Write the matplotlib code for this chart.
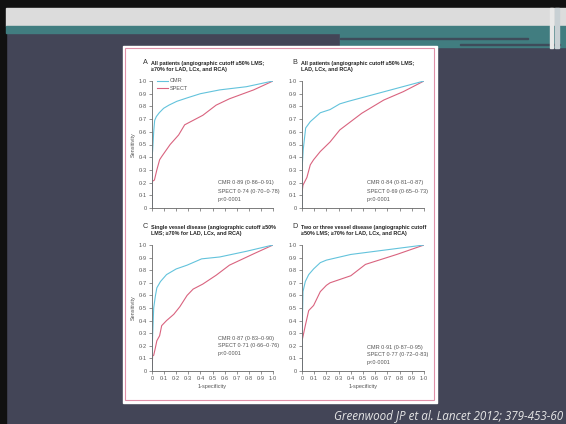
import matplotlib
matplotlib.use("Agg")
import matplotlib.pyplot as plt
from matplotlib.patches import Rectangle

# ROC points (1-specificity, sensitivity)
a_cmr_x = [0, 0, 0.005, 0.014, 0.022, 0.036, 0.06, 0.096, 0.14, 0.205, 0.30, 0.40, 0.56, 0.78, 1.0]
a_cmr_y = [0, 0.40, 0.45, 0.60, 0.69, 0.72, 0.75, 0.785, 0.81, 0.84, 0.87, 0.90, 0.93, 0.955, 1.0]
a_spect_x = [0, 0.003, 0.02, 0.04, 0.063, 0.08, 0.15, 0.22, 0.27, 0.34, 0.42, 0.53, 0.64, 0.84, 1.0]
a_spect_y = [0, 0.21, 0.22, 0.30, 0.38, 0.405, 0.50, 0.575, 0.655, 0.69, 0.73, 0.81, 0.86, 0.93, 1.0]

b_cmr_x = [0, 0, 0.01, 0.03, 0.068, 0.15, 0.23, 0.31, 0.38, 1.0]
b_cmr_y = [0, 0.30, 0.46, 0.63, 0.68, 0.75, 0.775, 0.82, 0.84, 1.0]
b_spect_x = [0, 0, 0.008, 0.04, 0.068, 0.095, 0.15, 0.23, 0.31, 0.49, 0.67, 0.83, 1.0]
b_spect_y = [0, 0.12, 0.18, 0.24, 0.34, 0.38, 0.445, 0.52, 0.615, 0.746, 0.85, 0.916, 1.0]

c_cmr_x = [0, 0, 0.005, 0.014, 0.027, 0.04, 0.07, 0.12, 0.20, 0.29, 0.41, 0.56, 0.78, 1.0]
c_cmr_y = [0, 0.12, 0.28, 0.50, 0.59, 0.66, 0.71, 0.765, 0.81, 0.84, 0.89, 0.905, 0.95, 1.0]
c_spect_x = [0, 0.005, 0.014, 0.027, 0.04, 0.063, 0.08, 0.12, 0.18, 0.23, 0.29, 0.34, 0.42, 0.53, 0.64, 0.84, 1.0]
c_spect_y = [0, 0.12, 0.125, 0.18, 0.24, 0.28, 0.36, 0.40, 0.45, 0.51, 0.60, 0.65, 0.69, 0.76, 0.84, 0.93, 1.0]

d_cmr_x = [0, 0, 0.008, 0.027, 0.055, 0.095, 0.15, 0.2, 0.40, 1.0]
d_cmr_y = [0, 0.25, 0.63, 0.71, 0.765, 0.81, 0.86, 0.88, 0.925, 1.0]
d_spect_x = [0, 0, 0.005, 0.027, 0.055, 0.095, 0.15, 0.2, 0.23, 0.40, 0.52, 0.78, 1.0]
d_spect_y = [0, 0.25, 0.26, 0.36, 0.48, 0.52, 0.63, 0.68, 0.70, 0.756, 0.846, 0.926, 1.0]

titles = [
    ("A", "All patients (angiographic cutoff \u226550% LMS;", "\u226570% for LAD, LCx, and RCA)"),
    ("B", "All patients (angiographic cutoff \u226550% LMS;", "LAD, LCx, and RCA)"),
    ("C", "Single vessel disease (angiographic cutoff \u226550%", "LMS; \u226570% for LAD, LCx, and RCA)"),
    ("D", "Two or three vessel disease (angiographic cutoff", "\u226550% LMS; \u226570% for LAD, LCx, and RCA)"),
]
stats = [
    ("CMR 0\u00b789 (0\u00b786\u20130\u00b791)", "SPECT 0\u00b774 (0\u00b770\u20130\u00b778)"),
    ("CMR 0\u00b784 (0\u00b781\u20130\u00b787)", "SPECT 0\u00b769 (0\u00b765\u20130\u00b773)"),
    ("CMR 0\u00b787 (0\u00b783\u20130\u00b790)", "SPECT 0\u00b771 (0\u00b766\u20130\u00b776)"),
    ("CMR 0\u00b791 (0\u00b787\u20130\u00b795)", "SPECT 0\u00b777 (0\u00b772\u20130\u00b783)"),
]
tick_vals = [0, 0.1, 0.2, 0.3, 0.4, 0.5, 0.6, 0.7, 0.8, 0.9, 1.0]
tick_labels = ["0", "0\u00b71", "0\u00b72", "0\u00b73", "0\u00b74", "0\u00b75",
               "0\u00b76", "0\u00b77", "0\u00b78", "0\u00b79", "1\u00b70"]

plt.rcParams['font.family'] = ['Liberation Sans', 'DejaVu Sans']

W, H = 566, 424
CMR_C = "#63c3dc"
SPECT_C = "#d9637f"
TXT = "#555555"
FS = 4.0

fig = plt.figure(figsize=(W / 100, H / 100), dpi=100)
fig.patch.set_facecolor("#434557")

# slide decorations, in pixel coordinates
bg = fig.add_axes([0, 0, 1, 1])
bg.set_xlim(0, W)
bg.set_ylim(H, 0)
bg.axis("off")
bg.add_patch(Rectangle((0, 0), W, 8, color="#111111"))
bg.add_patch(Rectangle((0, 0), 6, H, color="#111111"))
bg.add_patch(Rectangle((6, 8), W, 18, color="#dcdcdc"))
bg.add_patch(Rectangle((6, 26), W, 7, color="#417d80"))
bg.add_patch(Rectangle((340, 33), W, 14, color="#417d80"))
bg.add_patch(Rectangle((340, 38), 188, 1.2, color="#3e4b5a"))
bg.add_patch(Rectangle((460, 44), 100, 1.2, color="#3e4b5a"))
bg.add_patch(Rectangle((550, 8), 3, 40, color="#e8e8e8"))
bg.add_patch(Rectangle((555, 8), 4, 40, color="#c8d0d4"))
bg.add_patch(Rectangle((123, 46), 314, 357, color="white"))
bg.add_patch(Rectangle((125, 48), 309, 352, fill=False, ec="#e090a8", lw=0.8))
bg.text(563, 416, "Greenwood JP et al. Lancet 2012; 379-453-60", ha="right", va="center",
        fontsize=8.4, style="italic", color="#e6e6e6", family=["Open Sans", "DejaVu Sans"])

panels = [
    (a_cmr_x, a_cmr_y, a_spect_x, a_spect_y),
    (b_cmr_x, b_cmr_y, b_spect_x, b_spect_y),
    (c_cmr_x, c_cmr_y, c_spect_x, c_spect_y),
    (d_cmr_x, d_cmr_y, d_spect_x, d_spect_y),
]
# (x0, x1, y_top, y_bottom) in pixels
boxes = [(152, 273, 81, 208), (302, 424, 81, 208), (152, 273, 245, 371), (302, 424, 245, 371)]
stat_y = [(0.197, 0.126, 0.07), (0.197, 0.126, 0.07), (0.26, 0.20, 0.14), (0.185, 0.127, 0.07)]
stat_x = [0.545, 0.53, 0.545, 0.53]

for i, (cx, cy, sx, sy) in enumerate(panels):
    x0, x1, yt, yb = boxes[i]
    ax = fig.add_axes([x0 / W, 1 - yb / H, (x1 - x0) / W, (yb - yt) / H])
    ax.set_facecolor("none")
    ax.plot(sx, sy, color=SPECT_C, lw=0.8)
    ax.plot(cx, cy, color=CMR_C, lw=0.8)
    ax.set_xlim(0, 1)
    ax.set_ylim(0, 1)
    for s in ["top", "right"]:
        ax.spines[s].set_visible(False)
    for s in ["left", "bottom"]:
        ax.spines[s].set_color("#666666")
        ax.spines[s].set_linewidth(0.6)
    ax.set_yticks(tick_vals)
    ax.set_yticklabels(tick_labels)
    ax.set_xticks(tick_vals)
    if i >= 2:
        ax.set_xticklabels(tick_labels)
        ax.set_xlabel("1-specificity", fontsize=FS, color=TXT, labelpad=2)
    else:
        ax.set_xticklabels([])
    ax.tick_params(length=2.2, width=0.5, color="#666666", labelsize=FS,
                   labelcolor=TXT, pad=1.5)
    if i in (0, 2):
        ax.set_ylabel("Sensitivity", fontsize=FS, color=TXT, labelpad=2)

    for k, txt in enumerate([stats[i][0], stats[i][1], "p<0\u00b70001"]):
        ax.text(stat_x[i], stat_y[i][k], txt, transform=ax.transAxes, fontsize=FS,
                color=TXT, va="center")

    # panel title
    letter, line1, line2 = titles[i]
    ty = yt - 18
    lx = x0 - 9 if i in (0, 2) else x0 - 10
    bg.text(lx, ty, letter, fontsize=5.2, color="#333333", va="center")
    bg.text(x0 - 1, ty, line1, fontsize=3.9, color="#222222", va="center", weight="bold")
    bg.text(x0 - 1, ty + 7, line2, fontsize=3.9, color="#222222", va="center", weight="bold")

# legend in panel A
bg.plot([157, 168], [81, 81], color=CMR_C, lw=0.8)
bg.plot([157, 168], [88, 88], color=SPECT_C, lw=0.8)
bg.text(170, 81, "CMR", fontsize=FS, color=TXT, va="center")
bg.text(170, 88, "SPECT", fontsize=FS, color=TXT, va="center")

fig.savefig("out.png", dpi=100, facecolor=fig.get_facecolor())
